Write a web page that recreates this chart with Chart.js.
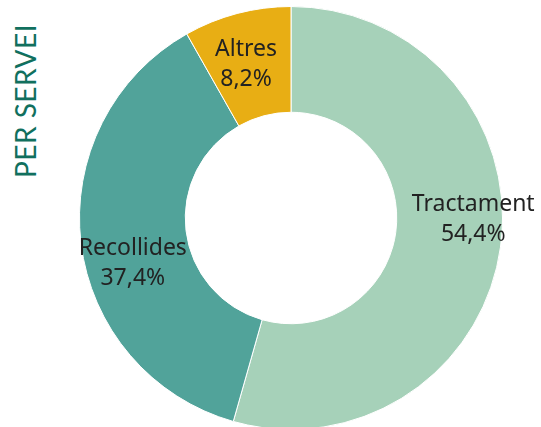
<!DOCTYPE html>
<html>
<head>
<meta charset="utf-8">
<script src="https://cdn.jsdelivr.net/npm/chart.js@4"></script>
<style>
  html, body { margin: 0; padding: 0; background: #fff; overflow: hidden; }
  body { width: 541px; height: 427px; position: relative; }
  #titol {
    position: absolute; left: 25px; top: 101px;
    transform: translate(-50%, -50%) rotate(-90deg);
    font-family: Lato, sans-serif; font-size: 28px; color: #11705e;
    white-space: nowrap; letter-spacing: 0.5px;
  }
  #caixa { position: absolute; left: 0; top: 0; width: 541px; height: 430px; }
</style>
</head>
<body>
<div id="titol">PER SERVEI</div>
<div id="caixa"><canvas id="grafic"></canvas></div>
<script>
const categories = ["Tractament", "Recollides", "Altres"];
const valors = [54.4, 37.4, 8.2];
const colors = ["#a6d1b9", "#51a39a", "#e8ae14"];
// posicio de cada etiqueta: fraccio del radi i desplacament en px
const posEtiquetes = [
  { r: 0.87, dx: 0, dy: -24 },
  { r: 0.82, dx: 14, dy: 25 },
  { r: 0.76, dx: -4, dy: 2 }
];

function fmt(v) {
  return v.toFixed(1).replace(".", ",") + "%";
}

const etiquetes = {
  id: "etiquetes",
  afterDatasetsDraw(chart) {
    const ctx = chart.ctx;
    const meta = chart.getDatasetMeta(0);
    ctx.save();
    ctx.fillStyle = "#222";
    ctx.font = "23px 'Noto Sans', sans-serif";
    ctx.textAlign = "center";
    ctx.textBaseline = "middle";
    meta.data.forEach((arc, i) => {
      const mig = (arc.startAngle + arc.endAngle) / 2;
      const p = posEtiquetes[i];
      const x = arc.x + Math.cos(mig) * arc.outerRadius * p.r + p.dx;
      const y = arc.y + Math.sin(mig) * arc.outerRadius * p.r + p.dy;
      ctx.fillText(categories[i], x, y - 15);
      ctx.fillText(fmt(valors[i]), x, y + 15);
    });
    ctx.restore();
  }
};

new Chart(document.getElementById("grafic"), {
  type: "doughnut",
  data: {
    labels: categories,
    datasets: [{
      data: valors,
      backgroundColor: colors,
      borderColor: "#fff",
      borderWidth: 1
    }]
  },
  options: {
    responsive: true,
    maintainAspectRatio: false,
    animation: false,
    cutout: "50%",
    layout: { padding: { left: 79, right: 38, top: 6, bottom: 0 } },
    plugins: { legend: { display: false }, tooltip: { enabled: false } }
  },
  plugins: [etiquetes]
});
</script>
</body>
</html>
